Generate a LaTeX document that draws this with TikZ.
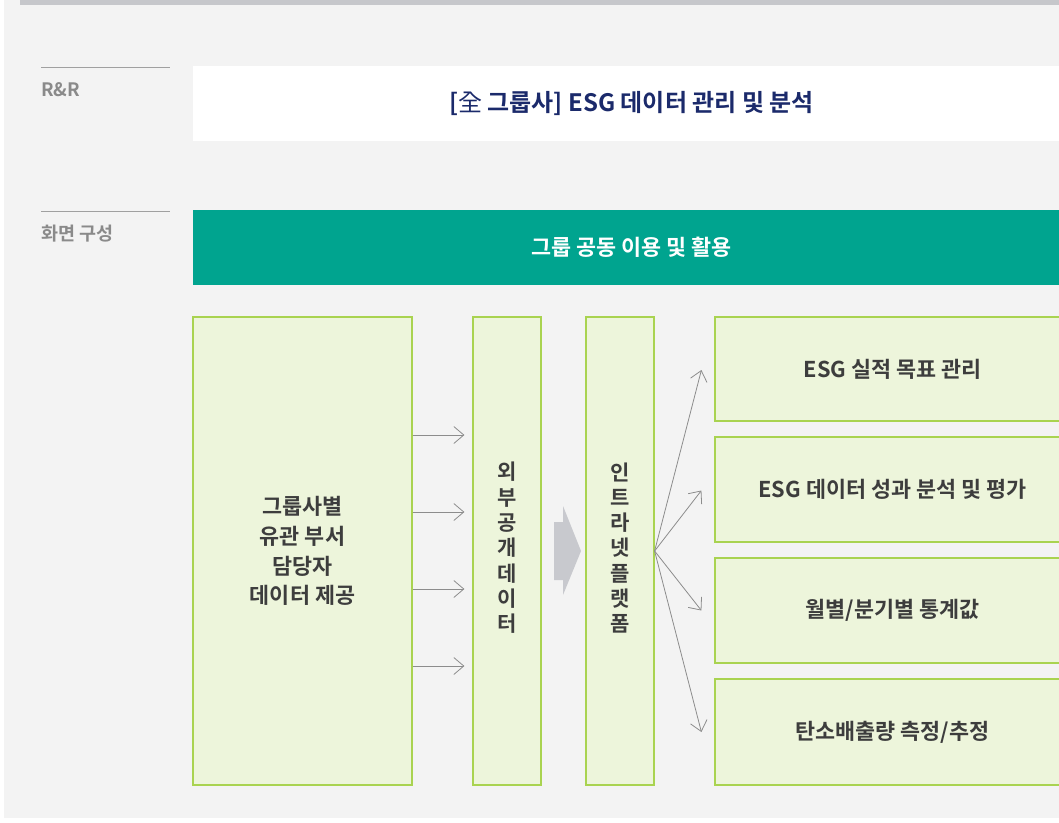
\documentclass[tikz,border=0pt]{standalone}
\usepackage{fontspec}
\setmainfont{Noto Sans CJK KR}[BoldFont={Noto Sans CJK KR Bold}]
\usetikzlibrary{arrows.meta,calc}
\definecolor{bggray}{HTML}{F3F3F3}
\definecolor{topbar}{HTML}{C6C7CB}
\definecolor{navy}{HTML}{1B2A6B}
\definecolor{tealc}{HTML}{00A48F}
\definecolor{boxfill}{HTML}{EDF5DB}
\definecolor{boxdraw}{HTML}{A9D350}
\definecolor{textdark}{HTML}{3D3D3D}
\definecolor{labelgray}{HTML}{8A8A8A}
\definecolor{linegray}{HTML}{A0A0A0}
\definecolor{arrowgray}{HTML}{8C8C8C}
\definecolor{blockgray}{HTML}{C8C9CE}
\tikzset{
  greenbox/.style={draw=boxdraw, line width=1.2pt, fill=boxfill, text=textdark,
    font=\bfseries\fontsize{21.8}{29.7}\selectfont, align=center, inner sep=0pt},
  vertbox/.style={greenbox, font=\bfseries\fontsize{21}{25.3}\selectfont},
  sidelabel/.style={text=labelgray, font=\bfseries\fontsize{18.5}{20}\selectfont, anchor=west, inner sep=0pt},
  thinarrow/.style={draw=arrowgray, line width=0.8pt, -{Straight Barb[length=10pt,width=17pt,line width=0.8pt]}},
}
\begin{document}
\begin{tikzpicture}[x=1pt,y=-1pt]
\useasboundingbox (0,0) rectangle (1059,822);
\fill[white] (0,0) rectangle (1059,822);
\fill[bggray] (4,0) rectangle (1059,818);
\fill[topbar] (20,0) rectangle (1059,5);
% side labels
\draw[linegray, line width=1pt] (41,67) -- (170,67);
\node[sidelabel] (rr) at (41,90) {R\&R};
\draw[linegray, line width=1pt] (41,211) -- (170,211);
\node[sidelabel] (screen) at (41,234) {화면 구성};
% title box
\node[fill=white, minimum width=877pt, minimum height=75pt, inner sep=0pt,
  text=navy, font=\bfseries\fontsize{24}{26}\selectfont] (title) at (631.5,103.5)
  {[{\mdseries 全} 그룹사] ESG 데이터 관리 및 분석};
% teal bar
\node[fill=tealc, minimum width=877pt, minimum height=75pt, inner sep=0pt,
  text=white, font=\bfseries\fontsize{21.8}{24}\selectfont] (teal) at (631.5,247.5)
  {그룹 공동 이용 및 활용};
% left box
\node[greenbox, minimum width=219pt, minimum height=468pt] (left) at (302.5,551)
  {그룹사별\\유관 부서\\담당자\\데이터 제공};
% external data
\node[vertbox, minimum width=68pt, minimum height=468pt] (ext) at (507,551) {};
\node[vertbox, draw=none, fill=none] (extt) at (507,548) {외\\부\\공\\개\\데\\이\\터};
% intranet
\node[vertbox, minimum width=68pt, minimum height=468pt] (intra) at (620,551) {};
\node[vertbox, draw=none, fill=none] (intrat) at (620,548) {인\\트\\라\\넷\\플\\랫\\폼};
% right boxes
\node[greenbox, minimum width=355pt, minimum height=104pt] (r1) at (892.5,369) {ESG 실적 목표 관리};
\node[greenbox, minimum width=355pt, minimum height=105pt] (r2) at (892.5,489.5) {ESG 데이터 성과 분석 및 평가};
\node[greenbox, minimum width=355pt, minimum height=105pt] (r3) at (892.5,610.5) {월별/분기별 통계값};
\node[greenbox, minimum width=355pt, minimum height=106pt] (r4) at (892.5,732) {탄소배출량 측정/추정};
% arrows left -> ext
\foreach \yy [count=\i] in {435,512,589,666}{
  \coordinate (h\i) at (0,\yy);
  \draw[thinarrow, shorten >=8pt] (left.east |- h\i) -- (ext.west |- h\i);
}
% block arrow
\fill[blockgray] (554,522) -- (563,522) -- (563,506) -- (581,551) -- (563,595) -- (563,580) -- (554,580) -- cycle;
% fan arrows
\foreach \n/\dy in {r1/1,r2/1,r3/0,r4/0}{
  \draw[thinarrow] (intra.east) -- ($(\n.west)+(-13,\dy)$);
}
\end{tikzpicture}
\end{document}
